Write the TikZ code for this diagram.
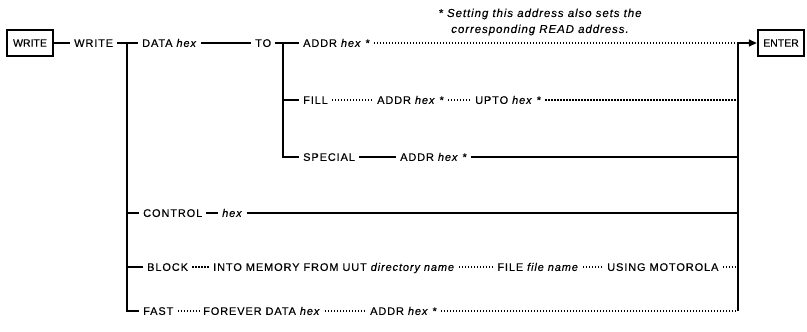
\documentclass[tikz,border=0pt]{standalone}
\usepackage{fontspec}
\setmainfont{Liberation Sans}[LetterSpace=8, FakeBold=0.35]
\newfontfamily\keyfont{Liberation Sans}[FakeBold=0.6]
\usetikzlibrary{arrows.meta,positioning}
\begin{document}
\begin{tikzpicture}[x=1pt,y=-1pt,
  t/.style={font=\fontsize{11}{13}\selectfont, inner xsep=4pt, inner ysep=0pt, text height=7.8pt, text depth=0pt, anchor=west},
  kbox/.style={draw, line width=2.4pt, font=\keyfont\fontsize{10.5}{12}\selectfont, minimum width=46pt, minimum height=26pt, inner sep=0pt},
  sol/.style={line width=1.5pt},
  dot/.style={line width=1.3pt, dash pattern=on 1.3pt off 1.7pt},
  bar/.style={line width=1.9pt}]
\useasboundingbox (0,0) rectangle (807,332);
% keys
\node[kbox] (wbox) at (30,43) {WRITE};
\node[kbox] (enter) at (781,43) {ENTER};
% row 43
\node[t] (write) at (70,43) {WRITE};
\node[t] (data) at (138,43) {DATA \textit{hex}};
\node[t] (to) at (251,43) {TO};
\node[t] (addr1) at (299,43) {ADDR \textit{hex} *};
% row 100
\node[t] (fill) at (299,100) {FILL};
\node[t] (addrf) at (373,100) {ADDR \textit{hex} *};
\node[t] (upto) at (471,100) {UPTO \textit{hex} *};
% row 157
\node[t] (special) at (299,157) {SPECIAL};
\node[t] (addrs) at (396,157) {ADDR \textit{hex} *};
% row 213
\node[t] (control) at (139,213) {CONTROL};
\node[t] (hexc) at (218,213) {\textit{hex}};
% row 267
\node[t] (block) at (143,267) {BLOCK};
\node[t] (into) at (209,267) {INTO MEMORY FROM UUT \textit{directory name}};
\node[t, right=34pt of into] (file) {FILE \textit{file name}};
\node[t, right=20pt of file] (using) {USING MOTOROLA};
% row 310
\node[t] (fast) at (139,311) {FAST};
\node[t] (forever) at (199,311) {FOREVER DATA \textit{hex}};
\node[t] (addrfa) at (366,311) {ADDR \textit{hex} *};
% footnote
\node[font=\fontsize{11.5}{16}\selectfont\itshape, align=center, inner sep=0pt] (note) at (540,22) {* Setting this address also sets the\\corresponding READ address.};
% junctions
\coordinate (j1) at (127,43);
\coordinate (j2) at (283,43);
\coordinate (r1) at (738,43);
\coordinate (r6) at (738,311);
% connectors
\draw[sol] (wbox.east) -- (write.west);
\draw[sol] (write.east) -- (data.west);
\draw[bar] (j1) |- (fast.west);
\draw[sol] (j1 |- control.west) -- (control.west);
\draw[sol] (j1 |- block.west) -- (block.west);
\draw[sol] (data.east) -- (to.west);
\draw[sol] (to.east) -- (addr1.west);
\draw[bar] (j2) |- (special.west);
\draw[sol] (j2 |- fill.west) -- (fill.west);
\draw[dot] (addr1.east) -- (r1);
\draw[sol, -{Triangle[length=8pt,width=7pt]}] (r1) -- (enter.west);
\draw[dot] (fill.east) -- (addrf.west);
\draw[dot] (addrf.east) -- (upto.west);
\draw[dot] (upto.east) -- (r1 |- upto.east);
\draw[sol] (special.east) -- (addrs.west);
\draw[sol] (addrs.east) -- (r1 |- addrs.east);
\draw[sol] (control.east) -- (hexc.west);
\draw[sol] (hexc.east) -- (r1 |- hexc.east);
\draw[dot] (block.east) -- (into.west);
\draw[dot] (into.east) -- (file.west);
\draw[dot] (file.east) -- (using.west);
\draw[dot] (using.east) -- (r1 |- using.east);
\draw[dot] (fast.east) -- (forever.west);
\draw[dot] (forever.east) -- (addrfa.west);
\draw[dot] (addrfa.east) -- (r6);
\draw[bar] (r1) -- (r6);
\end{tikzpicture}
\end{document}
